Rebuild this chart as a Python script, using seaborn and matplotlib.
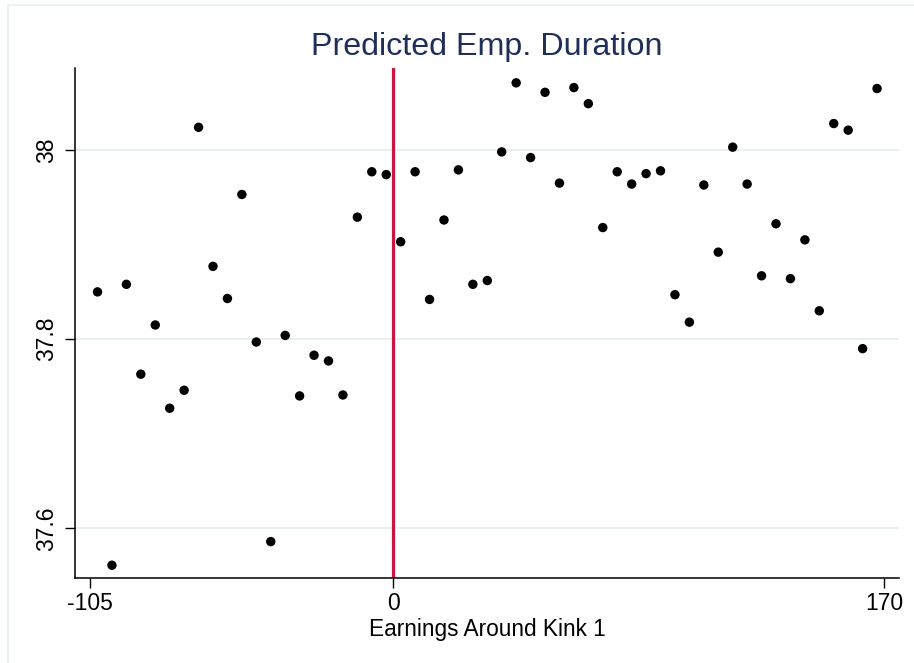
import matplotlib
matplotlib.use("Agg")

import pandas as pd
import matplotlib.pyplot as plt
import seaborn as sns
from matplotlib.patches import Rectangle


# ============================================================================
# Data (binned means)
# ============================================================================

earnings_bins = [
    -102.5, -97.5, -92.5, -87.5, -82.5, -77.5, -72.5, -67.5, -62.5, -57.5,
    -52.5, -47.5, -42.5, -37.5, -32.5, -27.5, -22.5, -17.5, -12.5, -7.5,
    -2.5, 2.5, 7.5, 12.5, 17.5, 22.5, 27.5, 32.5, 37.5, 42.5,
    47.5, 52.5, 57.5, 62.5, 67.5, 72.5, 77.5, 82.5, 87.5, 92.5,
    97.5, 102.5, 107.5, 112.5, 117.5, 122.5, 127.5, 132.5, 137.5, 142.5,
    147.5, 152.5, 157.5, 162.5, 167.5,
]

predicted_duration = [
    37.850, 37.561, 37.858, 37.763, 37.815, 37.727, 37.746, 38.024, 37.877, 37.843,
    37.953, 37.797, 37.586, 37.804, 37.740, 37.783, 37.777, 37.741, 37.929, 37.977,
    37.974, 37.903, 37.977, 37.842, 37.926, 37.979, 37.858, 37.862, 37.998, 38.071,
    37.992, 38.061, 37.965, 38.066, 38.049, 37.918, 37.977, 37.964, 37.975, 37.978,
    37.847, 37.818, 37.963, 37.892, 38.003, 37.964, 37.867, 37.922, 37.864, 37.905,
    37.830, 38.028, 38.021, 37.790, 38.065,
]

x_ticks = [-105, 0, 170]
y_ticks = [37.6, 37.8, 38.0]
y_tick_labels = ["37.6", "37.8", "38"]
kink_at = 0

df = pd.DataFrame({"Earnings": earnings_bins, "Duration": predicted_duration})


# ============================================================================
# Style
# ============================================================================

sns.set_theme(style="white", rc={
    "text.color": "black",
    "axes.labelcolor": "black",
    "xtick.color": "black",
    "ytick.color": "black",
    "xtick.bottom": True,
    "ytick.left": True,
})
plt.rcParams["font.family"] = ["Liberation Sans", "DejaVu Sans"]

GRID_COLOR = "#e8f0f2"
TITLE_COLOR = "#1f2f57"
KINK_COLOR = "#cc1443"


# ============================================================================
# Plot
# ============================================================================

fig = plt.figure(figsize=(9.14, 6.63), dpi=100)
ax = fig.add_axes([75 / 914, 85 / 663, 824 / 914, 510 / 663])

# outer graph-region border
fig.patches.append(
    Rectangle((8 / 914, -0.02), 1.1, (663 - 5) / 663 + 0.02,
              transform=fig.transFigure, fill=False,
              edgecolor=GRID_COLOR, linewidth=1.2, zorder=0)
)

for yt in y_ticks:
    ax.axhline(yt, color=GRID_COLOR, linewidth=1.5, zorder=0)

ax.axvline(kink_at, color=KINK_COLOR, linewidth=2.3, zorder=1)

sns.scatterplot(
    data=df,
    x="Earnings",
    y="Duration",
    color="black",
    s=46,
    edgecolor="none",
    zorder=3,
    ax=ax
)

ax.set_xlim(-110.3, 175.1)
ax.set_ylim(37.5475, 38.0867)

ax.set_xticks(x_ticks)
ax.set_xticklabels([str(t) for t in x_ticks], fontsize=16.5)
ax.set_yticks(y_ticks)
ax.set_yticklabels(y_tick_labels, fontsize=16.5, rotation=90, va="center")

ax.tick_params(axis="both", direction="out", length=7, width=1,
               color="black", pad=3)
ax.tick_params(axis="y", pad=5)

for side in ["top", "right"]:
    ax.spines[side].set_visible(False)
for side in ["left", "bottom"]:
    ax.spines[side].set_color("black")
    ax.spines[side].set_linewidth(1.1)

ax.set_xlabel("Earnings Around Kink 1", fontsize=16.3, labelpad=2)
ax.set_ylabel("")
ax.set_title("Predicted Emp. Duration", fontsize=23.2, color=TITLE_COLOR, pad=9)

fig.savefig("out.png", dpi=100)
